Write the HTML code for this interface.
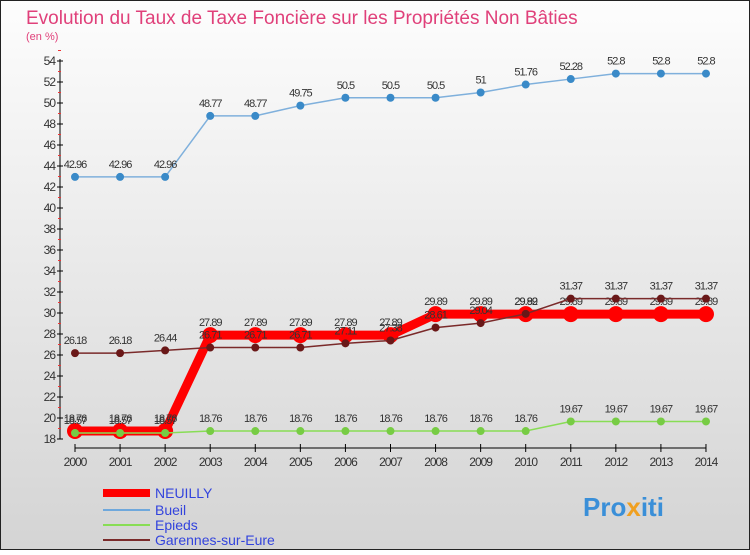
<!DOCTYPE html>
<html><head><meta charset="utf-8"><style>
body{margin:0;width:750px;height:550px;overflow:hidden;font-family:"Liberation Sans",sans-serif}
svg text{font-family:"Liberation Sans",sans-serif}
</style></head><body>
<svg id="c" width="750" height="550">
<defs><linearGradient id="bg" x1="0" y1="0" x2="0" y2="1"><stop offset="0" stop-color="#fdfdfd"/><stop offset="1" stop-color="#d4d4d4"/></linearGradient></defs>
<rect x="0.5" y="0.5" width="749" height="549" fill="url(#bg)" stroke="#222"/>
<text x="26" y="24" font-size="19" fill="#e0407a">Evolution du Taux de Taxe Foncière sur les Propriétés Non Bâties</text>
<text x="26" y="40" font-size="11" fill="#e0407a">(en %)</text>
<g id="axes"></g><g id="series"></g>
<g>
<line x1="103" y1="493" x2="150" y2="493" stroke="#ff0000" stroke-width="8"/>
<text x="155" y="498" font-size="14" fill="#3344dd">NEUILLY</text>
<line x1="103" y1="510" x2="150" y2="510" stroke="#6fa8dc" stroke-width="2"/>
<text x="155" y="515" font-size="14" fill="#3344dd">Bueil</text>
<line x1="103" y1="525" x2="150" y2="525" stroke="#88dd55" stroke-width="2"/>
<text x="155" y="530" font-size="14" fill="#3344dd">Epieds</text>
<line x1="103" y1="540" x2="150" y2="540" stroke="#7a2a2a" stroke-width="2"/>
<text x="155" y="545" font-size="14" fill="#3344dd">Garennes-sur-Eure</text>
</g>
<text x="583" y="516" font-size="26" font-weight="bold" fill="#3a8fd8">Pro<tspan fill="#f0a020">x</tspan>iti</text>
</svg>
<script>
const years=[2000,2001,2002,2003,2004,2005,2006,2007,2008,2009,2010,2011,2012,2013,2014];
const yTicks=[18,20,22,24,26,28,30,32,34,36,38,40,42,44,46,48,50,52,54];
const neuilly=[18.76,18.76,18.76,27.89,27.89,27.89,27.89,27.89,29.89,29.89,29.89,29.89,29.89,29.89,29.89];
const bueil=[42.96,42.96,42.96,48.77,48.77,49.75,50.5,50.5,50.5,51,51.76,52.28,52.8,52.8,52.8];
const epieds=[18.57,18.57,18.57,18.76,18.76,18.76,18.76,18.76,18.76,18.76,18.76,19.67,19.67,19.67,19.67];
const garennes=[26.18,26.18,26.44,26.71,26.71,26.71,27.11,27.38,28.61,29.04,29.92,31.37,31.37,31.37,31.37];
const NS="http://www.w3.org/2000/svg";
const xS=i=>75+i*45.07, yS=v=>439-(v-18)*10.5;
function mk(t,a,p){const e=document.createElementNS(NS,t);for(const k in a)e.setAttribute(k,a[k]);p.appendChild(e);return e;}
const ax=document.getElementById('axes'), se=document.getElementById('series');
let yl=mk('line',{x1:60,y1:yS(54)-2,x2:60,y2:yS(18),stroke:'#000'},ax);

yTicks.forEach(v=>{mk('line',{x1:57,y1:yS(v),x2:63,y2:yS(v),stroke:'#000'},ax);
 mk('line',{x1:58,y1:yS(v+1),x2:61,y2:yS(v+1),stroke:'#e33'},ax);
 const t=mk('text',{x:55,y:yS(v)+4,'font-size':12,'text-anchor':'end',fill:'#333','letter-spacing':'-1'},ax);t.textContent=v;
 });
let xl=mk('line',{x1:xS(0),y1:448,x2:xS(14),y2:448,stroke:'#000'},ax);

years.forEach((y,i)=>{mk('line',{x1:xS(i),y1:444,x2:xS(i),y2:452,stroke:'#000'},ax);
 const t=mk('text',{x:xS(i),y:466,'font-size':12,'text-anchor':'middle',fill:'#333','letter-spacing':'-1'},ax);t.textContent=y;
 });
function series(d,name,col,w,r,dot){
 const g=mk('g',{},se);
 mk('polyline',{points:d.map((v,i)=>xS(i)+','+yS(v)).join(' '),fill:'none',stroke:col,'stroke-width':w,'stroke-linejoin':'round'},g);
 d.forEach((v,i)=>{const c=mk('circle',{cx:xS(i),cy:yS(v),r:r,fill:dot},g);
  
  const t=mk('text',{x:xS(i),y:yS(v)-9,'font-size':11,'text-anchor':'middle',fill:'#333','letter-spacing':'-1'},g);t.textContent=v;
  });
}
series(bueil,'bueil','#7fb0dc',1.5,4,'#3a8ac8');
series(neuilly,'neuilly','#ff0000',9,8,'#ff0000');
series(garennes,'garennes','#7a2a2a',1.5,4,'#6a1818');
series(epieds,'epieds','#88dd55',1.5,4,'#77cc44');
</script>
</body></html>
